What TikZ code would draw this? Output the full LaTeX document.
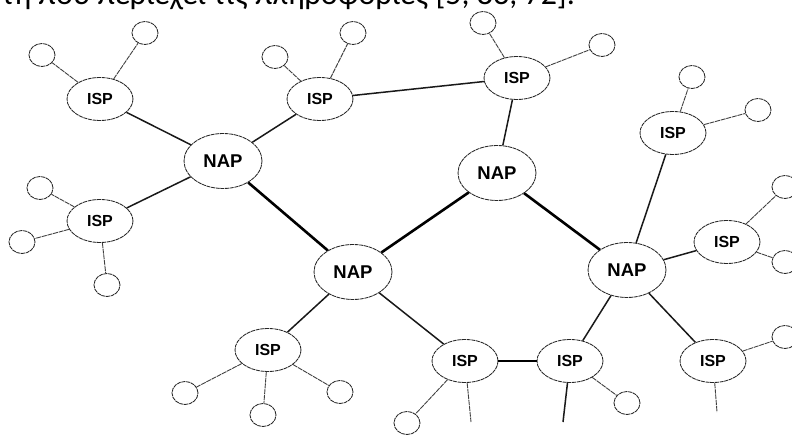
\documentclass[tikz,border=0pt]{standalone}
\usepackage{fontspec}
\setmainfont{Liberation Sans}
\newfontfamily\captionfont{Carlito}
\usetikzlibrary{shapes.geometric}

\tikzset{
  rim/.style={draw=black!85, line width=0.85pt, dash pattern=on 4pt off 0.7pt, fill=white},
  nap/.style={rim, ellipse, inner sep=0pt, minimum width=78pt, minimum height=55pt,
              font=\fontsize{18.5}{18.5}\selectfont\bfseries},
  isp/.style={rim, ellipse, inner sep=0pt, minimum width=66pt, minimum height=43pt,
              font=\fontsize{16}{16}\selectfont\bfseries},
  host/.style={rim, ellipse, inner sep=0pt, minimum width=26pt, minimum height=23pt},
  core/.style={line width=2.6pt, black},
  trunk/.style={line width=1.5pt, black!90},
  feed/.style={line width=0.9pt, black!75, dash pattern=on 5pt off 0.8pt},
}

\begin{document}
\begin{tikzpicture}[x=1pt, y=-1pt]
  \useasboundingbox (0,0) rectangle (792,435);
  \clip (0,0) rectangle (792,435);

  % caption line running off the top edge
  \node[anchor=base east, inner sep=0pt, font=\captionfont\fontsize{32}{32}\selectfont]
    (caption) at (575,4.5) {τη που περιέχει τις πληροφορίες [5, 83, 72].};

  % network access points
  \node[nap] (nap1) at (223,161) {NAP};
  \node[nap] (nap2) at (353,272) {NAP};
  \node[nap] (nap3) at (497,173) {NAP};
  \node[nap] (nap4) at (627,270) {NAP};

  % internet service providers
  \node[isp] (isp1)  at (100,99)  {ISP};
  \node[isp] (isp2)  at (320,99)  {ISP};
  \node[isp] (isp3)  at (100,221) {ISP};
  \node[isp] (isp4)  at (268,350) {ISP};
  \node[isp] (isp5)  at (517,78)  {ISP};
  \node[isp] (isp6)  at (673,133) {ISP};
  \node[isp] (isp7)  at (727,242) {ISP};
  \node[isp] (isp8)  at (465,361) {ISP};
  \node[isp] (isp9)  at (570,361) {ISP};
  \node[isp] (isp10) at (713,361) {ISP};

  % end hosts
  \node[host] (h1a)  at (42,55)   {};
  \node[host] (h1b)  at (145,33)  {};
  \node[host] (h2a)  at (275,57)  {};
  \node[host] (h2b)  at (353,33)  {};
  \node[host] (h3a)  at (40,188)  {};
  \node[host] (h3b)  at (22,242)  {};
  \node[host] (h3c)  at (107,285) {};
  \node[host] (h4a)  at (185,393) {};
  \node[host] (h4b)  at (263,415) {};
  \node[host] (h4c)  at (340,392) {};
  \node[host] (h5a)  at (483,23)  {};
  \node[host] (h5b)  at (602,45)  {};
  \node[host] (h6a)  at (692,77)  {};
  \node[host] (h6b)  at (758,110) {};
  \node[host] (h7a)  at (785,187) {};
  \node[host] (h7b)  at (785,262) {};
  \node[host] (h8a)  at (407,423) {};
  \node[host] (h9a)  at (627,403) {};
  \node[host] (h10a) at (785,337) {};

  % loose line ends
  \coordinate (e8)  at (471,422);
  \coordinate (e9)  at (563,422);
  \coordinate (e10) at (717,412);

  % backbone between access points
  \draw[core] (nap1) -- (nap2);
  \draw[core] (nap2) -- (nap3);
  \draw[core] (nap3) -- (nap4);

  % provider links
  \draw[trunk] (nap1) -- (isp1);
  \draw[trunk] (nap1) -- (isp2);
  \draw[trunk] (nap1) -- (isp3);
  \draw[trunk] (isp2) -- (isp5);
  \draw[trunk] (nap3) -- (isp5);
  \draw[trunk] (nap2) -- (isp4);
  \draw[trunk] (nap2) -- (isp8);
  \draw[trunk] (nap4) -- (isp6);
  \draw[trunk] (nap4) -- (isp7);
  \draw[trunk] (nap4) -- (isp9);
  \draw[trunk] (nap4) -- (isp10);
  \draw[line width=2pt] (isp8) -- (isp9);
  \draw[trunk] (isp9) -- (e9);

  % host links
  \draw[feed] (isp1) -- (h1a);
  \draw[feed] (isp1) -- (h1b);
  \draw[feed] (isp2) -- (h2a);
  \draw[feed] (isp2) -- (h2b);
  \draw[feed] (isp3) -- (h3a);
  \draw[feed] (isp3) -- (h3b);
  \draw[feed] (isp3) -- (h3c);
  \draw[feed] (isp4) -- (h4a);
  \draw[feed] (isp4) -- (h4b);
  \draw[feed] (isp4) -- (h4c);
  \draw[feed] (isp5) -- (h5a);
  \draw[feed] (isp5) -- (h5b);
  \draw[feed] (isp6) -- (h6a);
  \draw[feed] (isp6) -- (h6b);
  \draw[feed] (isp7) -- (h7a);
  \draw[feed] (isp7) -- (h7b);
  \draw[feed] (isp8) -- (h8a);
  \draw[feed] (isp8) -- (e8);
  \draw[feed] (isp9) -- (h9a);
  \draw[feed] (isp10) -- (h10a);
  \draw[feed] (isp10) -- (e10);
\end{tikzpicture}
\end{document}
